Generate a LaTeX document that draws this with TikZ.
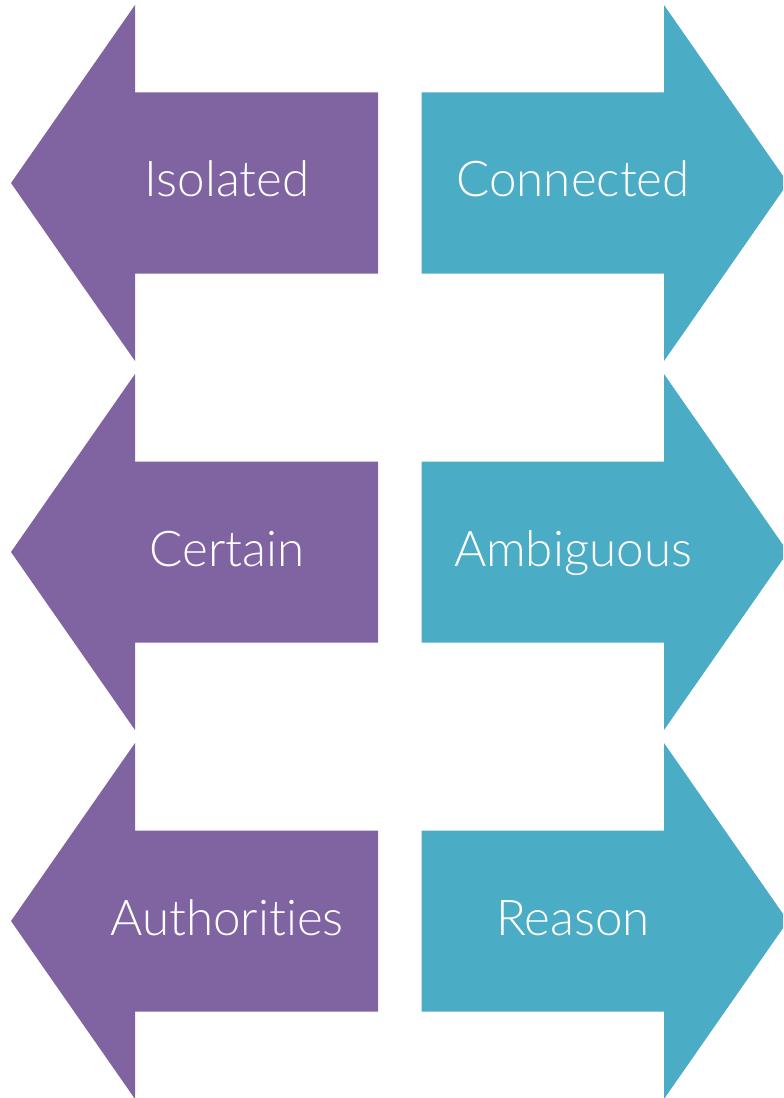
\documentclass[tikz,border=0pt]{standalone}
\usepackage{fontspec}
\setmainfont{Lato Light}[RawFeature={-liga;-dlig;-clig}]
\definecolor{purp}{HTML}{8064A2}
\definecolor{teal}{HTML}{4BACC6}
\begin{document}
\begin{tikzpicture}[x=0.75pt,y=-0.75pt,
  lbl/.style={text=white,font=\fontsize{37}{40}\selectfont,anchor=base,inner sep=0pt}]
\useasboundingbox (0,0) rectangle (783,1098);
\clip (0,0) rectangle (783,1098);
\foreach \c/\l/\r/\n in {183/Isolated/Connected/a,552/Certain/Ambiguous/b,921/Authorities/Reason/c}{
  \fill[purp] (11,\c) -- (135,\c-178) -- (135,\c-90.5) -- (378,\c-90.5) -- (378,\c+90.5) -- (135,\c+90.5) -- (135,\c+178) -- cycle;
  \fill[teal] (788,\c) -- (664,\c-178) -- (664,\c-90.5) -- (421.5,\c-90.5) -- (421.5,\c+90.5) -- (664,\c+90.5) -- (664,\c+178) -- cycle;
  \node[lbl] (l\n) at (227,\c+14) {\l};
  \node[lbl] (r\n) at (573,\c+14) {\r};
}
\end{tikzpicture}
\end{document}
